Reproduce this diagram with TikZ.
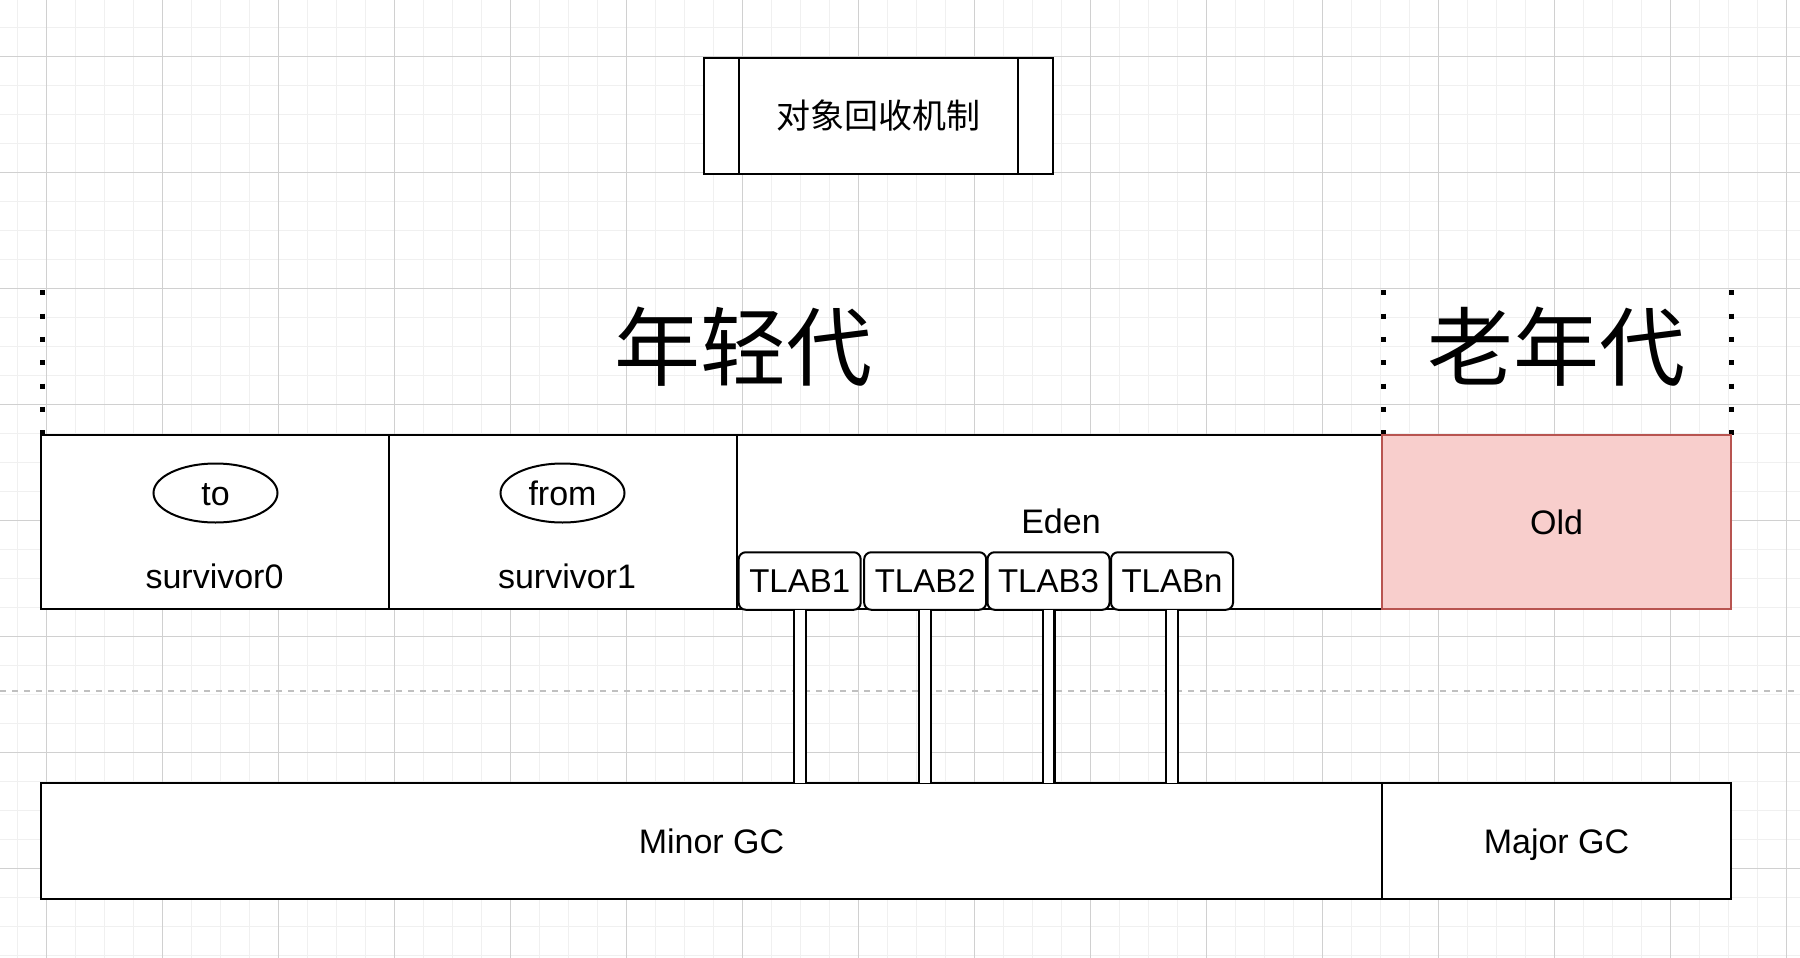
\documentclass[tikz,border=0pt]{standalone}
\usepackage{fontspec}
\setmainfont{Liberation Sans}
\newfontfamily\cjk{Noto Sans CJK SC}
\usetikzlibrary{shapes.geometric}
\definecolor{gridmajor}{HTML}{D0D0D0}
\definecolor{gridminor}{HTML}{F0F0F0}
\definecolor{pagebreak}{HTML}{C0C0C0}
\definecolor{oldfill}{HTML}{F8CECC}
\definecolor{oldline}{HTML}{B85450}
\tikzset{
  latin/.style={font=\fontsize{17}{20}\selectfont, text height=12.2pt, text depth=0pt},
  box/.style={draw, line width=1pt, fill=white, inner sep=0pt, outer sep=0pt, latin},
  tlab/.style={box, rounded corners=3.5pt, minimum width=61pt, minimum height=28.75pt,
    font=\fontsize{16.5}{19}\selectfont, text height=11.8pt},
  oval/.style={draw, line width=1pt, fill=white, ellipse, inner sep=0pt,
    minimum width=62pt, minimum height=29.5pt, latin},
  lbl/.style={inner sep=0pt, latin},
  bigcjk/.style={inner sep=0pt, font=\cjk\fontsize{43}{50}\selectfont},
  dotline/.style={line width=2.5pt, dash pattern=on 2.5pt off 9.17pt},
  linkedge/.style={double, double distance=4.8pt, line width=1.1pt},
}
\begin{document}
\begin{tikzpicture}[x=0.5pt,y=-0.5pt]
\useasboundingbox (0,0) rectangle (1800,958);
\fill[white] (0,0) rectangle (1800,958);
% grid
\foreach \i in {0,...,61} \draw[gridminor, line width=0.8pt] ({17.3+29*\i},0) -- ({17.3+29*\i},958);
\foreach \i in {0,...,32} \draw[gridminor, line width=0.8pt] (0,{27.3+29*\i}) -- (1800,{27.3+29*\i});
\foreach \i in {0,...,15} \draw[gridmajor, line width=0.5pt] ({46.3+116*\i},0) -- ({46.3+116*\i},958);
\foreach \i in {0,...,7} \draw[gridmajor, line width=0.5pt] (0,{56.3+116*\i}) -- (1800,{56.3+116*\i});
\draw[pagebreak, line width=1pt, dash pattern=on 3pt off 3pt] (0,690.7) -- (1800,690.7);

% title process box
\node[draw, line width=1pt, fill=white, inner sep=0pt, outer sep=0pt,
  minimum width=174.7pt, minimum height=58.3pt, font=\cjk\fontsize{17}{20}\selectfont]
  (title) at (878.7,116) {对象回收机制};
\draw[line width=1pt] ([xshift=17.7pt]title.north west) -- ([xshift=17.7pt]title.south west);
\draw[line width=1pt] ([xshift=-17.7pt]title.north east) -- ([xshift=-17.7pt]title.south east);

% generation headings
\node[bigcjk] (young) at (743.3,347) {年轻代};
\node[bigcjk] (oldgen) at (1556.5,347) {老年代};
\draw[dotline] (42.5,290.2) -- (42.5,435.2);
\draw[dotline] (1383,290.2) -- (1383,435.2);
\draw[dotline] (1731.8,290.2) -- (1731.8,435.2);

% memory areas
\node[box, minimum width=174pt, minimum height=87.2pt] (s0) at (215,521.8) {};
\node[box, minimum width=174pt, minimum height=87.2pt] (s1) at (563,521.8) {};
\node[box, minimum width=322.5pt, minimum height=87.2pt] (eden) at (1059.5,521.8) {};
\node[lbl] (edent) at (1061,521) {Eden};
\node[box, fill=oldfill, draw=oldline, minimum width=174.5pt, minimum height=87.2pt] (old) at (1556.5,521.8) {Old};

\node[oval] (to) at (215.5,493) {to};
\node[oval] (from) at (562.5,493) {from};
\node[lbl] (s0t) at (214.5,576.7) {survivor0};
\node[lbl] (s1t) at (567,576.7) {survivor1};

\node[tlab] (t1) at (799.7,581) {TLAB1};
\node[tlab] (t2) at (925.2,581) {TLAB2};
\node[tlab] (t3) at (1048.5,581) {TLAB3};
\node[tlab] (tn) at (1172,581) {TLABn};

% GC boxes
\node[box, minimum width=670.5pt, minimum height=57.7pt] (minor) at (711.5,841) {Minor GC};
\node[box, minimum width=174.5pt, minimum height=57.7pt] (major) at (1556.5,841) {Major GC};

% links
\draw[linkedge] (t1.south) -- (t1.south |- minor.north);
\draw[linkedge] (t2.south) -- (t2.south |- minor.north);
\draw[linkedge] (t3.south) -- (t3.south |- minor.north);
\draw[linkedge] (tn.south) -- (tn.south |- minor.north);
\end{tikzpicture}
\end{document}
